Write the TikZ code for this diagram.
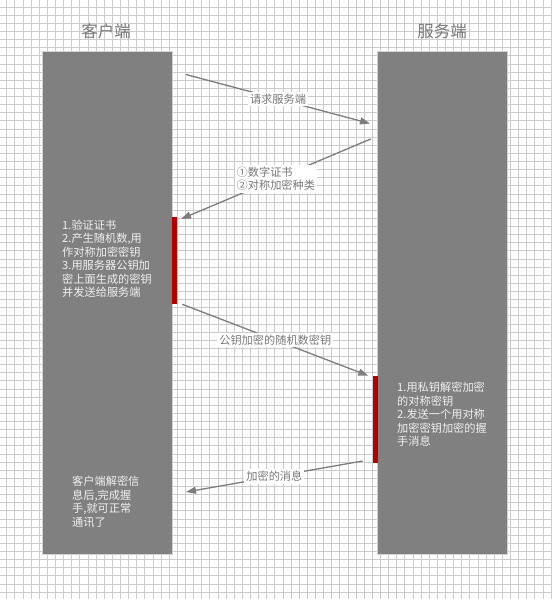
\documentclass[tikz,border=0pt]{standalone}
\usepackage{fontspec}
\setmainfont{Noto Sans CJK SC}
\usepackage{tikz}
\usetikzlibrary{arrows.meta}
\usepackage{xcolor}
\definecolor{boxgray}{RGB}{128,128,128}
\definecolor{linegray}{RGB}{125,125,125}
\definecolor{textgray}{RGB}{120,120,120}
\definecolor{barred}{RGB}{180,0,0}

\tikzset{
  gridline/.style={draw=gray!40, line width=0.7pt},
  colbox/.style={fill=boxgray, draw=gray!35, line width=1pt},
  redbar/.style={fill=barred, draw=none},
  coltitle/.style={text=textgray, font=\fontsize{16.5}{20}\selectfont, inner sep=0pt},
  coltext/.style={text=white!94!black, font=\fontsize{11.2}{13.5}\selectfont, align=left, anchor=north west, inner sep=0pt},
  msg/.style={draw=linegray, line width=1.3pt, -{Triangle[length=10pt,width=7pt]}},
  msglabel/.style={fill=white, text=textgray, font=\fontsize{11.2}{12.7}\selectfont, align=left, inner sep=2pt, midway},
}

\begin{document}
\begin{tikzpicture}[x=1pt,y=-1pt]
\useasboundingbox (0,0) rectangle (552,599);
\fill[white] (0,0) rectangle (552,599);

% grid
\foreach \i in {0,...,67}
  \draw[gridline] ({6.7+\i*8.125},0) -- ({6.7+\i*8.125},599);
\foreach \j in {0,...,72}
  \draw[gridline] (0,{7+\j*8.125}) -- (552,{7+\j*8.125});

% columns
\draw[colbox] (42,52) rectangle (172,554);
\draw[colbox] (377.7,52) rectangle (507,554);

\node[coltitle] (client) at (106,31) {客户端};
\node[coltitle] (server) at (442,31) {服务端};

% activation bars
\fill[redbar] (172,217) rectangle (177,304);
\fill[redbar] (372.5,376) rectangle (377.7,463);

\node[coltext] (clientstep) at (62,219.5) {1.验证证书\\2.产生随机数,用\\作对称加密密钥\\3.用服务器公钥加\\密上面生成的密钥\\并发送给服务端};
\node[coltext] (serverstep) at (397,382) {1.用私钥解密加密\\的对称密钥\\2.发送一个用对称\\加密密钥加密的握\\手消息};
\node[coltext] (clientdone) at (72,476) {客户端解密信\\息后,完成握\\手,就可正常\\通讯了};

% messages
\coordinate (req1) at (186,74.5);
\coordinate (req2) at (370,123.5);
\coordinate (cert1) at (370.7,139);
\coordinate (cert2) at (181,219);
\coordinate (key1) at (182.3,304.3);
\coordinate (key2) at (368.3,375.7);
\coordinate (enc1) at (362.7,461);
\coordinate (enc2) at (186,492);

\draw[msg] (req1) -- node[msglabel] (reqlabel) {请求服务端} (req2);
\draw[msg] (cert1) -- node[msglabel] (certlabel) {①数字证书\\②对称加密种类} (cert2);
\draw[msg] (key1) -- node[msglabel] (keylabel) {公钥加密的随机数密钥} (key2);
\draw[msg] (enc1) -- node[msglabel] (enclabel) {加密的消息} (enc2);

\end{tikzpicture}
\end{document}
